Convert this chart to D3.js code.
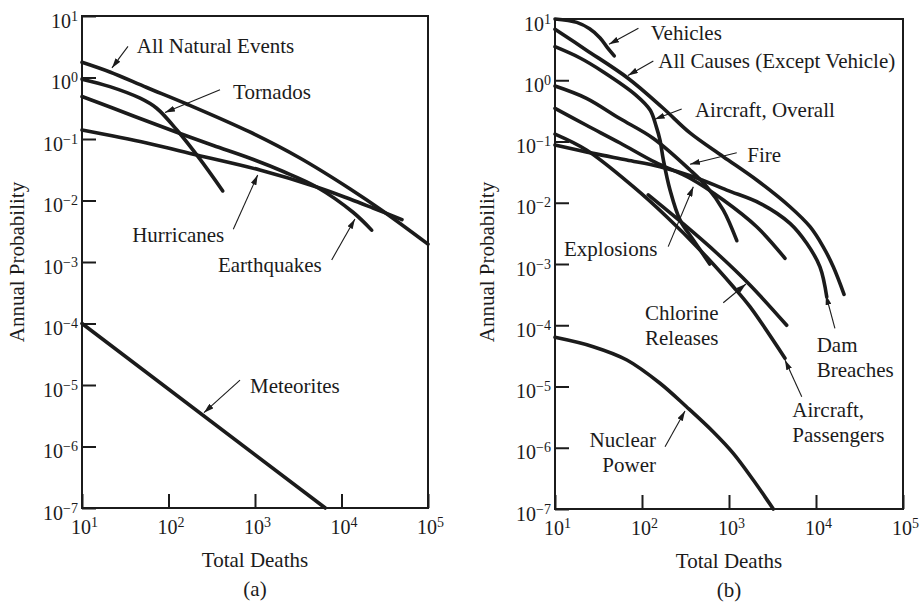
<!DOCTYPE html>
<html>
<head>
<meta charset="utf-8">
<script src="https://cdn.jsdelivr.net/npm/d3@7"></script>
<style>
  body { margin: 0; background: #fff; }
  svg { display: block; }
</style>
</head>
<body>
<div id="chart"></div>
<script>
// Axis ticks and the exponents printed on them
const xTicks = [1e1, 1e2, 1e3, 1e4, 1e5];
const xTickPowers = ['1', '2', '3', '4', '5'];
const yTicks = [1e1, 1e0, 1e-1, 1e-2, 1e-3, 1e-4, 1e-5, 1e-6, 1e-7];
const yTickPowers = ['1', '0', '\u22121', '\u22122', '\u22123', '\u22124', '\u22125', '\u22126', '\u22127'];

// (a) natural events, [total deaths, annual probability]
const allNaturalEvents = [[10, 1.77], [21, 1.23], [56, 0.687], [162, 0.371], [870, 0.13], [3300, 0.0491], [12600, 0.0154], [30000, 0.00675], [100000, 0.00195]];
const tornados = [[10, 0.94], [21, 0.71], [47, 0.46], [73, 0.316], [125, 0.14], [231, 0.047], [424, 0.0143]];
const hurricanes = [[10, 0.14], [56, 0.0861], [212, 0.055], [1140, 0.0313], [5160, 0.0166], [12500, 0.01057], [23100, 0.00755], [50000, 0.0049]];
const earthquakes = [[10, 0.49], [23, 0.316], [56, 0.196], [136, 0.1227], [330, 0.0783], [875, 0.0486], [2120, 0.0296], [5160, 0.0166], [13700, 0.00638], [22300, 0.0033]];
const meteorites = [[10, 1e-4], [6500, 1e-7]];

// (b) man-caused events, [total deaths, annual probability]
const vehicles = [[10, 10], [17.8, 8.8], [25, 6.9], [33, 4.9], [40, 3.4], [48, 2.5]];
const allCauses = [[10, 6.8], [23, 3.1], [69, 1.08], [174, 0.352], [356, 0.138], [860, 0.0565], [2080, 0.0235], [5020, 0.0086], [8530, 0.00406], [12100, 0.00191], [15800, 0.0009], [21000, 0.00032]];
const aircraftOverall = [[10, 3.53], [19.4, 2.31], [35.6, 1.38], [85, 0.574], [124, 0.327], [145, 0.18], [161, 0.105], [176, 0.05], [210, 0.0161], [274, 0.0052], [389, 0.00247], [600, 0.001]];
const fire = [[10, 0.805], [23, 0.507], [55, 0.239], [134, 0.113], [356, 0.0343], [555, 0.0183], [860, 0.0076], [1230, 0.0024]];
const explosions = [[10, 0.348], [22.7, 0.186], [56, 0.0946], [141, 0.046], [356, 0.0251], [860, 0.0111], [2080, 0.00406], [4400, 0.00124]];
const aircraftPassengers = [[10, 0.132], [23, 0.0726], [79.4, 0.0183], [192, 0.00592], [464, 0.0017], [1120, 0.000426], [1740, 0.000201], [4400, 0.000029]];
const damBreaches = [[10, 0.0877], [27.5, 0.064], [67, 0.0499], [161, 0.0388], [389, 0.0266], [942, 0.0161], [2270, 0.0098], [5020, 0.00461], [7820, 0.00218], [11100, 0.0009], [13300, 0.00029]];
const chlorineReleases = [[118, 0.0134], [299, 0.0045], [722, 0.00151], [1740, 0.000454], [4600, 0.0001]];
const nuclearPower = [[10, 6.35e-5], [27.5, 4.47e-5], [67, 2.71e-5], [161, 1.13e-5], [327, 4.62e-6], [661, 1.81e-6], [1120, 8.1e-7], [1900, 2.97e-7], [3230, 1e-7]];

// Labels with their arrows, placed in data units (text anchor, arrow tail, arrow tip)
const naturalNotes = [
  { lines: ['All Natural Events'], anchor: 'start', at: [43, 2.5], from: [34, 3.2], to: [22.2, 1.43] },
  { lines: ['Tornados'], anchor: 'start', at: [557, 0.44], from: [394, 0.63], to: [91, 0.27] },
  { lines: ['Hurricanes'], anchor: 'start', at: [38, 0.00214], from: [561, 0.0034], to: [1074, 0.026] },
  { lines: ['Earthquakes'], anchor: 'start', at: [373, 0.000695], from: [7700, 0.00108], to: [14300, 0.005] },
  { lines: ['Meteorites'], anchor: 'start', at: [875, 7.4e-6], from: [671, 1.2e-5], to: [257, 3.55e-6] },
];
const manMadeNotes = [
  { lines: ['Vehicles'], anchor: 'start', at: [126, 4.54], from: [91, 7.05], to: [41.8, 3.86] },
  { lines: ['All Causes (Except Vehicle)'], anchor: 'start', at: [154, 1.58], from: [135, 2.06], to: [69, 1.2] },
  { lines: ['Aircraft, Overall'], anchor: 'start', at: [406, 0.251], from: [286, 0.34], to: [140, 0.23] },
  { lines: ['Fire'], anchor: 'start', at: [1622, 0.0468], from: [1227, 0.0656], to: [356, 0.0425] },
  { lines: ['Explosions'], anchor: 'start', at: [12.7, 0.00135], from: [200, 0.00192], to: [389, 0.0183] },
  { lines: ['Chlorine', 'Releases'], anchor: 'end', at: [757, 1.22e-4], from: [859, 2.33e-4], to: [1567, 4.71e-4] },
  { lines: ['Dam', 'Breaches'], anchor: 'start', at: [10190, 3.7e-5], from: [16500, 8.9e-5], to: [13000, 3.12e-4] },
  { lines: ['Aircraft,', 'Passengers'], anchor: 'start', at: [5350, 3.2e-6], from: [6860, 6.8e-6], to: [4400, 2.71e-5] },
  { lines: ['Nuclear', 'Power'], anchor: 'end', at: [145, 1.04e-6], from: [184, 1.04e-6], to: [312, 3.98e-6] },
];

const fontFamily = '"Liberation Serif", "Times New Roman", Times, serif';
const ink = '#1b1b1b';

const svg = d3.select('#chart')
  .append('svg')
  .attr('width', 923)
  .attr('height', 602)
  .style('font-family', fontFamily);

// Arrowhead shared by all label arrows
svg.append('defs')
  .append('marker')
  .attr('id', 'head')
  .attr('viewBox', '0 0 10 6')
  .attr('refX', 10)
  .attr('refY', 3)
  .attr('markerWidth', 10)
  .attr('markerHeight', 6)
  .attr('markerUnits', 'userSpaceOnUse')
  .attr('orient', 'auto')
  .append('path')
  .attr('d', 'M0,0L10,3L0,6Z')
  .attr('fill', ink);

function drawPanel(panel) {
  const width = panel.width;
  const height = panel.height;

  const x = d3.scaleLog().domain([10, 1e5]).range([0, width]);
  const y = d3.scaleLog().domain([1e-7, 10]).range([height, 0]);

  const g = svg.append('g')
    .attr('transform', 'translate(' + panel.left + ',' + panel.top + ')');

  // Left axis, ticks pointing into the plot
  const yAxis = g.append('g')
    .call(d3.axisLeft(y).tickValues(yTicks).tickSizeInner(-14).tickSizeOuter(0).tickPadding(4).tickFormat(() => ''));
  yAxis.selectAll('.tick text')
    .attr('dy', null)
    .attr('y', 11)
    .each(function (d, i) {
      const t = d3.select(this);
      t.append('tspan').text('10');
      t.append('tspan').attr('dy', -7).style('font-size', '14px').text(yTickPowers[i]);
    });

  // Bottom axis
  const xAxis = g.append('g')
    .attr('transform', 'translate(0,' + height + ')')
    .call(d3.axisBottom(x).tickValues(xTicks).tickSizeInner(-14).tickSizeOuter(0).tickFormat(() => ''));
  xAxis.selectAll('.tick text')
    .attr('dy', null)
    .attr('y', 26)
    .attr('x', 2)
    .each(function (d, i) {
      const t = d3.select(this);
      t.append('tspan').text('10');
      t.append('tspan').attr('dy', -7).style('font-size', '14px').text(xTickPowers[i]);
    });

  [yAxis, xAxis].forEach((a) => {
    a.select('.domain').remove();
    a.selectAll('.tick line').attr('stroke', ink).attr('stroke-width', 2);
    a.selectAll('.tick text')
      .attr('fill', ink)
      .style('font-size', '20px')
      .style('font-family', fontFamily);
  });

  // Frame
  g.append('rect')
    .attr('width', width)
    .attr('height', height)
    .attr('fill', 'none')
    .attr('stroke', ink)
    .attr('stroke-width', 2);

  // Curves
  const line = d3.line()
    .x((d) => x(d[0]))
    .y((d) => y(d[1]))
    .curve(d3.curveCatmullRom.alpha(0.5));

  g.selectAll('.curve')
    .data(panel.series)
    .enter()
    .append('path')
    .attr('class', 'curve')
    .attr('d', line)
    .attr('fill', 'none')
    .attr('stroke', ink)
    .attr('stroke-width', 3.6)
    .attr('stroke-linecap', 'round')
    .attr('stroke-linejoin', 'round');

  // Arrows and labels
  g.selectAll('.arrow')
    .data(panel.notes)
    .enter()
    .append('line')
    .attr('class', 'arrow')
    .attr('x1', (d) => x(d.from[0]))
    .attr('y1', (d) => y(d.from[1]))
    .attr('x2', (d) => x(d.to[0]))
    .attr('y2', (d) => y(d.to[1]))
    .attr('stroke', ink)
    .attr('stroke-width', 1.1)
    .attr('marker-end', 'url(#head)');

  const labels = g.selectAll('.note')
    .data(panel.notes)
    .enter()
    .append('text')
    .attr('class', 'note')
    .attr('text-anchor', (d) => d.anchor)
    .attr('fill', ink)
    .style('font-size', '21px');
  labels.each(function (d) {
    const t = d3.select(this);
    d.lines.forEach((txt, k) => {
      t.append('tspan')
        .attr('x', x(d.at[0]))
        .attr('y', y(d.at[1]) + k * 25)
        .text(txt);
    });
  });

  // Titles
  g.append('text')
    .attr('x', width / 2)
    .attr('y', height + 58.5)
    .attr('text-anchor', 'middle')
    .attr('fill', ink)
    .style('font-size', '21px')
    .text('Total Deaths');

  g.append('text')
    .attr('x', width / 2)
    .attr('y', height + 87.5)
    .attr('text-anchor', 'middle')
    .attr('fill', ink)
    .style('font-size', '21px')
    .text(panel.caption);

  g.append('text')
    .attr('transform', 'translate(' + panel.yTitleX + ',' + (262 - panel.top) + ') rotate(-90)')
    .attr('text-anchor', 'middle')
    .attr('fill', ink)
    .style('font-size', '21px')
    .text('Annual Probability');
}

drawPanel({
  left: 82, top: 16, width: 346, height: 492, yTitleX: -58, caption: '(a)',
  series: [allNaturalEvents, tornados, hurricanes, earthquakes, meteorites],
  notes: naturalNotes,
});

drawPanel({
  left: 555, top: 19, width: 348, height: 490, yTitleX: -61, caption: '(b)',
  series: [vehicles, allCauses, aircraftOverall, fire, explosions, aircraftPassengers, damBreaches, chlorineReleases, nuclearPower],
  notes: manMadeNotes,
});
</script>
</body>
</html>
